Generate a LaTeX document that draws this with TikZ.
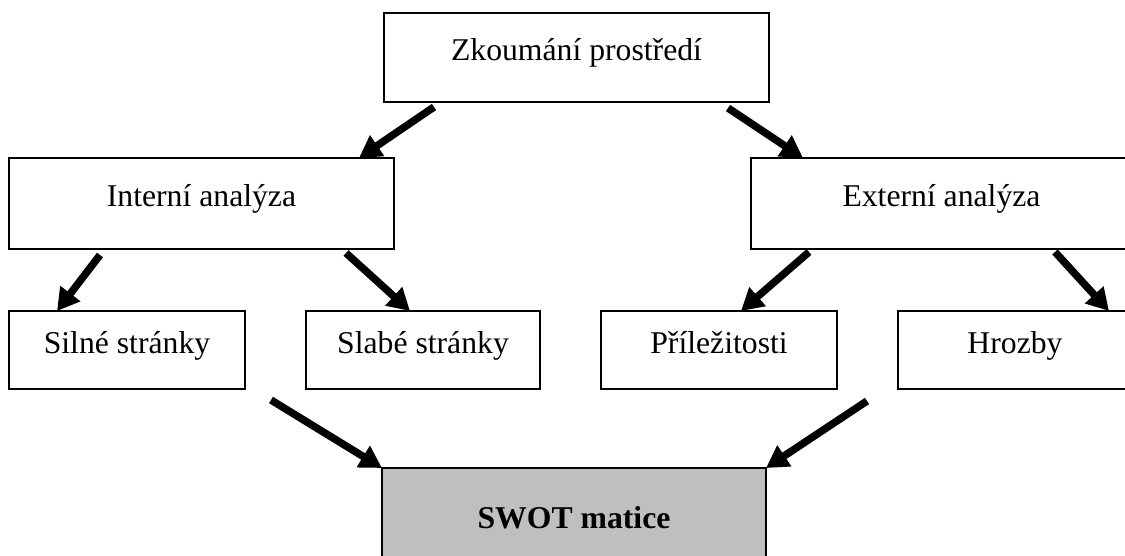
\documentclass[tikz,border=0pt]{standalone}
\usepackage{fontspec}
\setmainfont{Liberation Serif}
\usetikzlibrary{arrows.meta,calc}

\begin{document}
\begin{tikzpicture}[
  x=1pt, y=-1pt,
  box/.style={rectangle, draw, line width=1.8pt, outer sep=0pt, inner sep=0pt,
    anchor=north west, text height=21pt, text depth=14pt,
    font=\fontsize{31.7}{38}\selectfont},
  swotbox/.style={box, fill=gray!50, font=\fontsize{31.7}{38}\selectfont\bfseries},
  arr/.style={draw, line width=7.5pt, -{Triangle[length=22pt,width=24pt]}}
]
  \useasboundingbox (0,0) rectangle (1125,556);
  \clip (0,0) rectangle (1125,556);

  % boxes
  \node[box, minimum width=385pt, minimum height=89pt] (zk) at (384,13) {Zkoumání prostředí};
  \node[box, minimum width=385pt, minimum height=91pt] (int) at (9,158) {Interní analýza};
  \node[box, minimum width=381pt, minimum height=91pt] (ext) at (751,158) {Externí analýza};
  \node[box, minimum width=236pt, minimum height=78pt] (sil) at (9,311) {Silné stránky};
  \node[box, minimum width=234pt, minimum height=78pt] (sla) at (306,311) {Slabé stránky};
  \node[box, minimum width=236pt, minimum height=78pt] (pri) at (601,311) {Příležitosti};
  \node[box, minimum width=234pt, minimum height=78pt] (hro) at (898,311) {Hrozby};
  \node[swotbox, minimum width=384pt, minimum height=113pt] (swot) at (382,468) {SWOT matice};

  % arrows
  \draw[arr] ($(zk.south west)+(50,5)$) -- ($(int.north east)+(-35,0)$);
  \draw[arr] ($(zk.south east)+(-41,6)$) -- ($(ext.north west)+(52,0)$);
  \draw[arr] ($(int.south west)+(91,6)$) -- ($(sil.north west)+(48,0)$);
  \draw[arr] ($(int.south east)+(-48,4)$) -- ($(sla.north west)+(104,0)$);
  \draw[arr] ($(ext.south west)+(58,3)$) -- ($(pri.north east)+(-96,0)$);
  \draw[arr] ($(ext.south east)+(-77,3)$) -- ($(hro.north west)+(211,0)$);
  \draw[arr] ($(sil.south east)+(26,11)$) -- (swot.north west);
  \draw[arr] ($(pri.south east)+(30,12)$) -- (swot.north east);
\end{tikzpicture}
\end{document}
